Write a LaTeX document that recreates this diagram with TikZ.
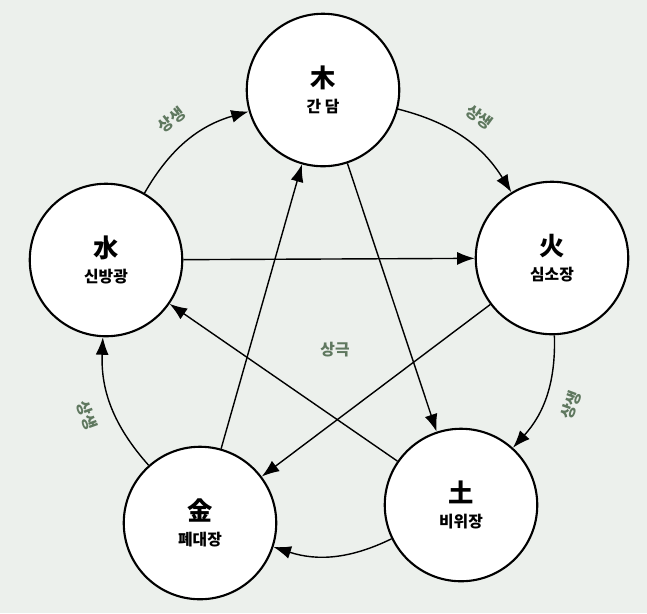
\documentclass[tikz,border=0pt]{standalone}
\usepackage{fontspec}
\newfontfamily\kr{Noto Sans CJK KR}
\usetikzlibrary{arrows.meta}
\definecolor{paper}{RGB}{236,240,236}
\definecolor{labelgreen}{RGB}{95,120,95}
\tikzset{
    organ/.style={draw=black, very thick, circle, fill=white, minimum size=3.05cm, align=center, font=\kr},
    line/.style={draw=black, thick, -{Latex[length=3.5mm,width=2.6mm]}},
    cyclelabel/.style={font=\kr\small\bfseries, text=labelgreen}
}
\begin{document}
\begin{tikzpicture}
    \fill [paper] (0,0) rectangle (12.94,-12.26);
    \useasboundingbox (0,0) rectangle (12.94,-12.26);

    \node [organ] (Mok) at (6.46,-1.80) {{\Large\bfseries 木}\\[2pt]{\small\bfseries 간 담}};
    \node [organ] (Hwa) at (11.04,-5.16) {{\Large\bfseries 火}\\[2pt]{\small\bfseries 심소장}};
    \node [organ] (To) at (9.22,-10.10) {{\Large\bfseries 土}\\[2pt]{\small\bfseries 비위장}};
    \node [organ] (Geum) at (4.00,-10.46) {{\Large\bfseries 金}\\[2pt]{\small\bfseries 폐대장}};
    \node [organ] (Su) at (2.12,-5.20) {{\Large\bfseries 水}\\[2pt]{\small\bfseries 신방광}};

    % sangsaeng cycle
    \draw [line] (Su) to [bend left=22] node [cyclelabel, sloped, above=7pt] {상생} (Mok);
    \draw [line] (Mok) to [bend left=22] node [cyclelabel, sloped, above=7pt] {상생} (Hwa);
    \draw [line] (Hwa) to [bend left=22] node [cyclelabel, sloped, below=7pt] {상생} (To);
    \draw [line] (To) to [bend left=22] (Geum);
    \draw [line] (Geum) to [bend left=22] node [cyclelabel, sloped, below=7pt] {상생} (Su);

    % sanggeuk
    \draw [line] (Su) -- (Hwa);
    \draw [line] (Hwa) -- (Geum);
    \draw [line] (Geum) -- (Mok);
    \draw [line] (Mok) -- (To);
    \draw [line] (To) -- (Su);

    \node [cyclelabel] (Sanggeuk) at (6.70,-7.00) {상극};
\end{tikzpicture}
\end{document}
